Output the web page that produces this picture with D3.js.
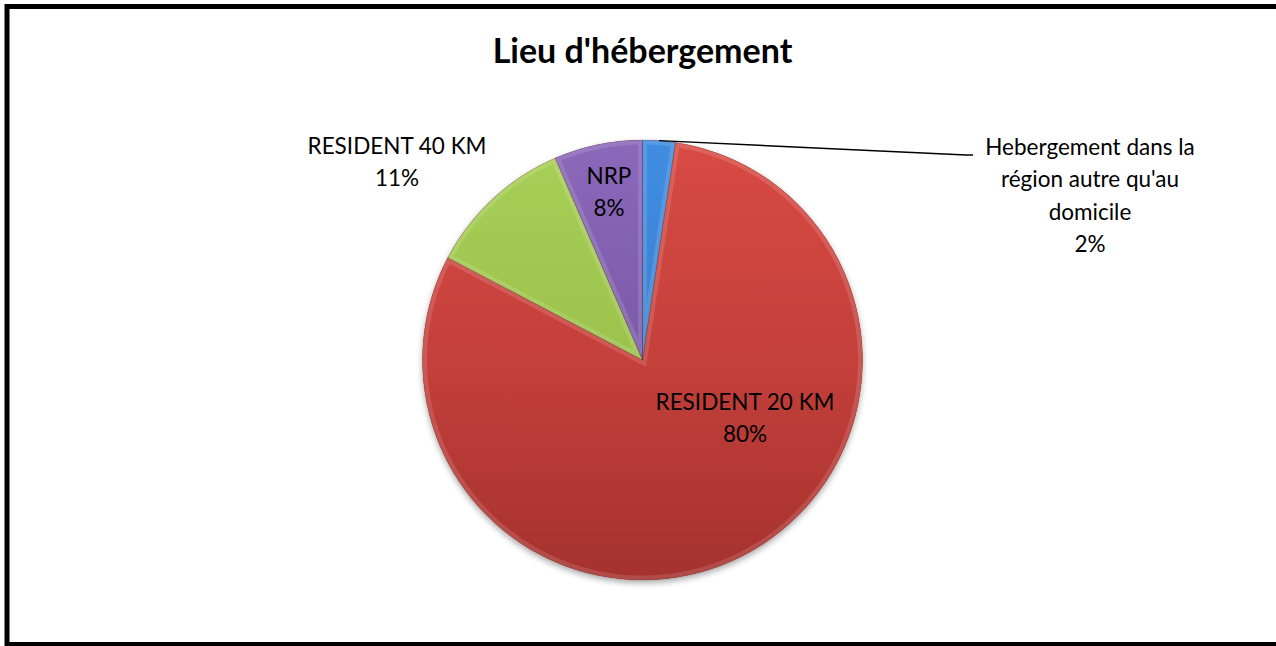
<!DOCTYPE html>
<html>
<head>
<meta charset="utf-8">
<script src="https://cdn.jsdelivr.net/npm/d3@7"></script>
<style>
  html, body { margin: 0; padding: 0; background: #fff; overflow: hidden; }
  text { font-family: Lato, "Open Sans", sans-serif; fill: #000; }
</style>
</head>
<body>
<div id="chart"></div>
<script>
// data
var categories = ['Hebergement dans la région autre qu\'au domicile', 'RESIDENT 20 KM', 'RESIDENT 40 KM', 'NRP']
var values     = [2.4, 80.3, 10.8, 6.5]
var pctLabels  = ['2%', '80%', '11%', '8%']

// label text split into lines, and where Excel put them
var labelLines = [
  ['Hebergement dans la', 'région autre qu\'au', 'domicile'],
  ['RESIDENT 20 KM'],
  ['RESIDENT 40 KM'],
  ['NRP']
]
var labelPos = [[1090, 155], [745, 410], [397, 154], [609, 184]]

var W = 1276, H = 646
var cx = 642.5, cy = 360, r = 220
var lineH = 32.3

var topColors    = ['#3f8de2', '#d94a44', '#a8d057', '#8b68ba']
var midColors    = ['#3a80d0', '#c4403b', '#9bc24b', '#7c5aa8']
var bottomColors = ['#2c6bb4', '#a5312e', '#86a93c', '#664892']

var svg = d3.select('#chart').append('svg').attr('width', W).attr('height', H)
var defs = svg.append('defs')

// soft shadow under the pie
var f = defs.append('filter').attr('id', 'shadow').attr('x', '-10%').attr('y', '-10%').attr('width', '120%').attr('height', '125%')
f.append('feDropShadow').attr('dx', 0).attr('dy', 3).attr('stdDeviation', 3).attr('flood-color', '#000').attr('flood-opacity', 0.35)

topColors.forEach(function(c, i) {
  var g = defs.append('linearGradient').attr('id', 'grad' + i)
    .attr('gradientUnits', 'userSpaceOnUse')
    .attr('x1', 0).attr('y1', -r).attr('x2', 0).attr('y2', r)
  g.append('stop').attr('offset', '0%').attr('stop-color', c)
  g.append('stop').attr('offset', '50%').attr('stop-color', midColors[i])
  g.append('stop').attr('offset', '100%').attr('stop-color', bottomColors[i])
})

// title
svg.append('text')
  .attr('x', cx).attr('y', 63)
  .attr('text-anchor', 'middle')
  .style('font-weight', 'bold').style('font-size', '34px')
  .text('Lieu d\'hébergement')

var pie = d3.pie().sort(null).value(function(d) { return d })
var arcs = pie(values)
var arc = d3.arc().innerRadius(0).outerRadius(r)

var gPie = svg.append('g').attr('transform', 'translate(' + cx + ',' + cy + ')')

gPie.append('circle').attr('r', r).attr('fill', '#a5312e').attr('filter', 'url(#shadow)')

arcs.forEach(function(a, i) {
  defs.append('clipPath').attr('id', 'clip' + i)
    .append('path').attr('d', arc(a))
})

gPie.selectAll('path.slice')
  .data(arcs)
  .enter().append('path')
  .attr('class', 'slice')
  .attr('d', arc)
  .attr('fill', function(d, i) { return 'url(#grad' + i + ')' })

// bevel: light inner rim, then dark hairline edge
arcs.forEach(function(a, i) {
  gPie.append('path')
    .attr('d', arc(a))
    .attr('clip-path', 'url(#clip' + i + ')')
    .attr('fill', 'none')
    .attr('stroke', '#fff')
    .attr('stroke-opacity', 0.13)
    .attr('stroke-width', 9)
  gPie.append('path')
    .attr('d', arc(a))
    .attr('fill', 'none')
    .attr('stroke', '#000')
    .attr('stroke-opacity', 0.15)
    .attr('stroke-width', 0.8)
})

// leader line for the small slice
var edge = d3.arc().innerRadius(r).outerRadius(r).centroid(arcs[0])
svg.append('polyline')
  .attr('points', [[cx + edge[0], cy + edge[1]], [labelPos[0][0] - 124, labelPos[0][1]], [labelPos[0][0] - 117, labelPos[0][1]]].join(' '))
  .attr('fill', 'none').attr('stroke', '#000').attr('stroke-width', 1.5)

// data labels
labelLines.forEach(function(lines, i) {
  var t = svg.append('text')
    .attr('text-anchor', 'middle')
    .style('font-size', '22.5px')
  lines.concat([pctLabels[i]]).forEach(function(s, k) {
    t.append('tspan').attr('x', labelPos[i][0]).attr('y', labelPos[i][1] + k * lineH).text(s)
  })
})

// chart frame (right side runs past the window)
svg.append('rect')
  .attr('x', 7).attr('y', 6.5).attr('width', W + 10).attr('height', 638)
  .attr('fill', 'none').attr('stroke', '#000').attr('stroke-width', 5)
</script>
</body>
</html>
